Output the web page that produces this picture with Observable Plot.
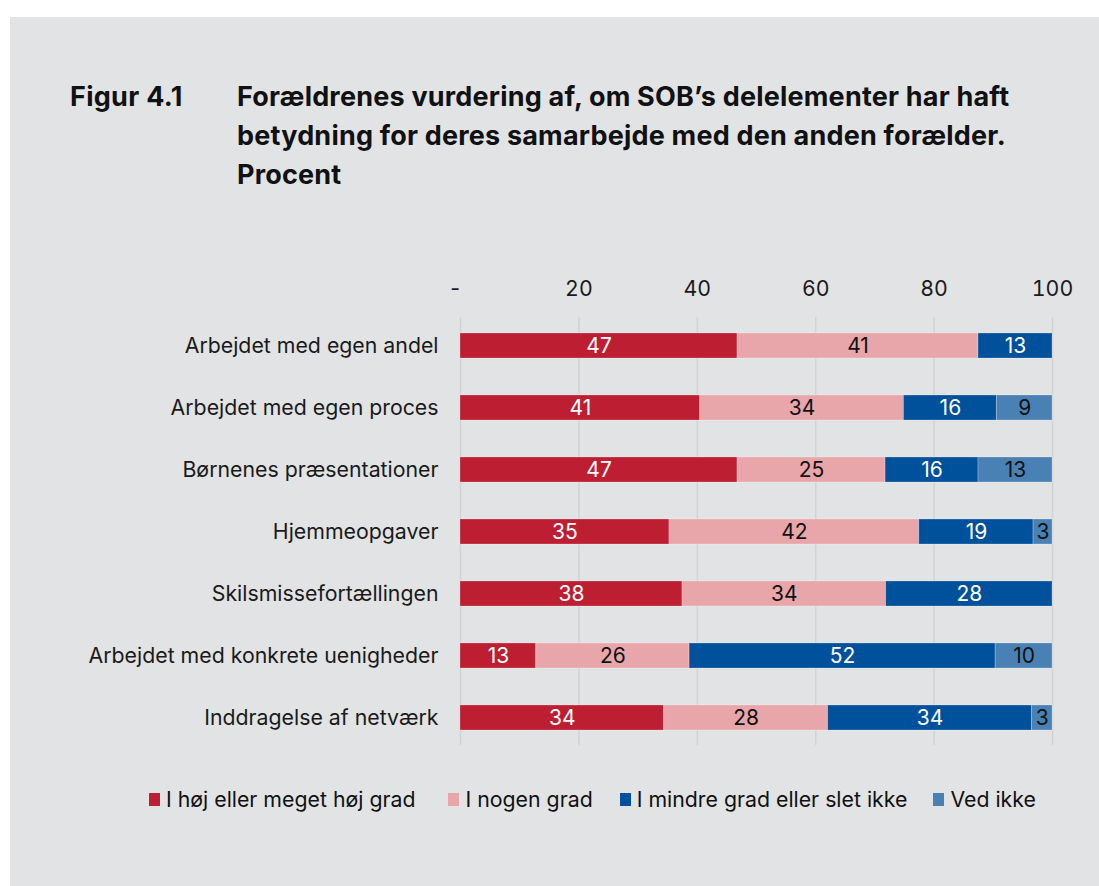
<!DOCTYPE html>
<html>
<head>
<meta charset="utf-8">
<script src="https://cdn.jsdelivr.net/npm/d3@7"></script>
<script src="https://cdn.jsdelivr.net/npm/@observablehq/plot@0.6"></script>
<style>
  body { margin: 0; background: #ffffff; font-family: Inter, "Noto Sans", sans-serif; }
  #panel { position: absolute; left: 10px; top: 17px; width: 1089px; height: 869px; background: #e2e3e5; }
  .fig { position: absolute; left: 60px; top: 60px; font-weight: 700; font-size: 27px; letter-spacing: 0.3px; line-height: 39px; color: #111; white-space: nowrap; }
  .title { position: absolute; left: 227px; top: 60px; font-weight: 700; font-size: 27px; letter-spacing: 0.2px; line-height: 39px; color: #111; white-space: nowrap; }
  #chart { position: absolute; left: 0; top: 233px; }
  #legend { position: absolute; left: 139px; top: 770px; height: 24px; display: flex; align-items: center; font-family: Inter, sans-serif; font-size: 21.3px; color: #111; white-space: nowrap; }
  .item { display: flex; align-items: center; }
  .sw { width: 11px; height: 13px; margin-right: 6px; }
</style>
</head>
<body>
<div id="panel">
  <div class="fig">Figur 4.1</div>
  <div class="title">Forældrenes vurdering af, om SOB’s delelementer har haft<br>betydning for deres samarbejde med den anden forælder.<br>Procent</div>
  <div id="chart"></div>
  <div id="legend"></div>
</div>
<script>
const categories = [
  "Arbejdet med egen andel",
  "Arbejdet med egen proces",
  "Børnenes præsentationer",
  "Hjemmeopgaver",
  "Skilsmissefortællingen",
  "Arbejdet med konkrete uenigheder",
  "Inddragelse af netværk"
];
const seriesNames = [
  "I høj eller meget høj grad",
  "I nogen grad",
  "I mindre grad eller slet ikke",
  "Ved ikke"
];
const seriesColors = ["#be1e32", "#e8a6ab", "#00519b", "#4a81b5"];
const hoejGrad    = [46.8, 40.5, 46.8, 35.3, 37.5, 12.8, 34.4];
const nogenGrad   = [40.7, 34.4, 25.0, 42.2, 34.4, 25.9, 27.7];
const mindreGrad  = [12.5, 15.7, 15.7, 19.3, 28.1, 51.7, 34.45];
const vedIkke     = [0,    9.4,  12.5, 3.2,  0,    9.6,  3.45];
const xTicks = [0, 20, 40, 60, 80, 100];

const seriesValues = [hoejGrad, nogenGrad, mindreGrad, vedIkke];
const darkSeries = [seriesNames[0], seriesNames[2]];

const data = [];
categories.forEach((c, i) => {
  seriesNames.forEach((s, j) => {
    const v = seriesValues[j][i];
    if (v > 0) data.push({item: c, series: s, value: v});
  });
});

const fmt = v => String(Math.round(v));
const font = "Inter, 'Noto Sans', sans-serif";

const chart = Plot.plot({
  width: 1089,
  height: 510,
  marginLeft: 450,
  marginRight: 47,
  marginTop: 67,
  marginBottom: 15,
  style: {background: "transparent", fontFamily: font, fontSize: "21.3px", color: "#1a1a1a"},
  x: {domain: [0, 100], axis: "top", ticks: xTicks, tickSize: 0, tickPadding: 22,
      tickFormat: d => d === 0 ? "-\u2002" : String(d), label: null},
  y: {domain: categories, paddingInner: 0.6, paddingOuter: 0.25, tickSize: 0, tickPadding: 22, label: null},
  color: {domain: seriesNames, range: seriesColors},
  marks: [
    Plot.ruleX(xTicks, {stroke: "#d2d3d5", strokeWidth: 1.5}),
    Plot.barX(data, {x: "value", y: "item", fill: "series", z: "series", stroke: "#ffffff", strokeOpacity: 0.3, strokeWidth: 0.8}),
    Plot.textX(data, Plot.stackX({x: "value", y: "item", z: "series",
      text: d => darkSeries.includes(d.series) ? fmt(d.value) : null,
      fill: "#ffffff", fontSize: 21})),
    Plot.textX(data, Plot.stackX({x: "value", y: "item", z: "series",
      text: d => darkSeries.includes(d.series) ? null : fmt(d.value),
      fill: "#111111", fontSize: 21}))
  ]
});
document.getElementById("chart").appendChild(chart);

const legendGaps = [33, 27, 26, 0];
const legend = d3.select("#legend");
seriesNames.forEach((s, i) => {
  const it = legend.append("div").attr("class", "item").style("margin-right", legendGaps[i] + "px");
  it.append("div").attr("class", "sw").style("background", seriesColors[i]);
  it.append("span").text(s);
});
</script>
</body>
</html>
